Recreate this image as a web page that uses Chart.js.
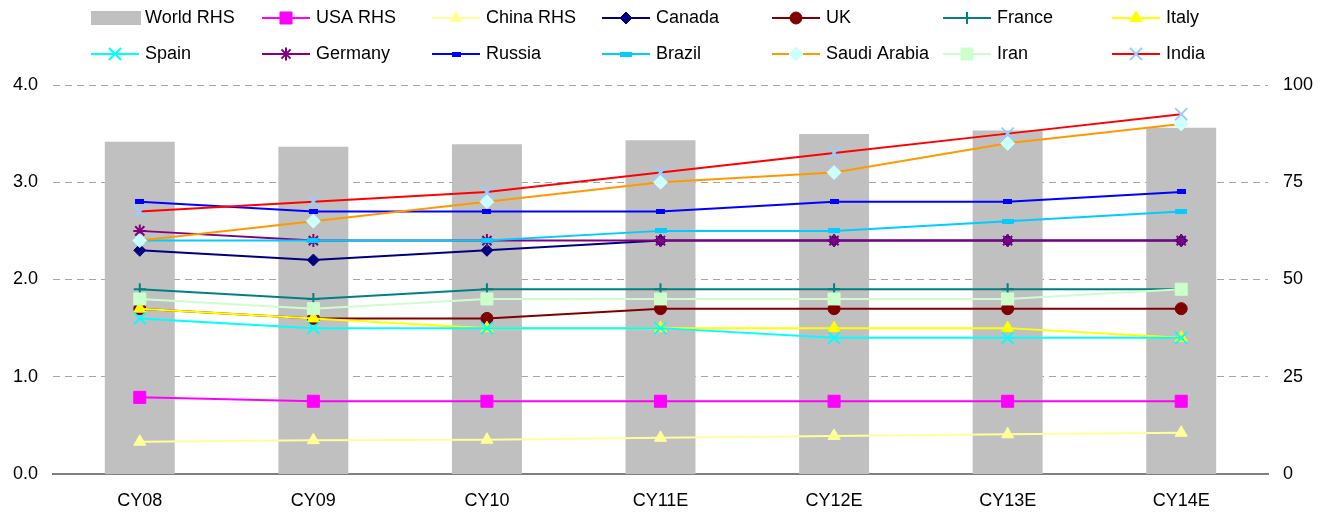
<!DOCTYPE html>
<html>
<head>
<meta charset="utf-8">
<script src="https://cdn.jsdelivr.net/npm/chart.js@4.4.1/dist/chart.umd.min.js"></script>
<style>
  html, body { margin: 0; padding: 0; background: #fff; }
  canvas { display: block; }
</style>
</head>
<body>
<canvas id="chart" width="1327" height="515"></canvas>
<script>
// values
const categories = ['CY08', 'CY09', 'CY10', 'CY11E', 'CY12E', 'CY13E', 'CY14E'];
const leftTicks = [0, 1, 2, 3, 4];
const rightTicks = [0, 25, 50, 75, 100];

const worldRhs = [85.4, 84.1, 84.8, 85.8, 87.4, 88.3, 89.0];
const usaRhs = [19.7, 18.7, 18.7, 18.7, 18.7, 18.7, 18.7];
const chinaRhs = [8.3, 8.7, 8.8, 9.3, 9.8, 10.2, 10.6];
const canada = [2.3, 2.2, 2.3, 2.4, 2.4, 2.4, 2.4];
const uk = [1.7, 1.6, 1.6, 1.7, 1.7, 1.7, 1.7];
const france = [1.9, 1.8, 1.9, 1.9, 1.9, 1.9, 1.9];
const italy = [1.7, 1.6, 1.5, 1.5, 1.5, 1.5, 1.4];
const spain = [1.6, 1.5, 1.5, 1.5, 1.4, 1.4, 1.4];
const germany = [2.5, 2.4, 2.4, 2.4, 2.4, 2.4, 2.4];
const russia = [2.8, 2.7, 2.7, 2.7, 2.8, 2.8, 2.9];
const brazil = [2.4, 2.4, 2.4, 2.5, 2.5, 2.6, 2.7];
const saudiArabia = [2.4, 2.6, 2.8, 3.0, 3.1, 3.4, 3.6];
const iran = [1.8, 1.7, 1.8, 1.8, 1.8, 1.8, 1.9];
const india = [2.7, 2.8, 2.9, 3.1, 3.3, 3.5, 3.7];

const FONT = '"Liberation Sans", Arial, sans-serif';

// small flat bar markers (Russia / Brazil)
function flatMarker(w, h, color) {
  const c = document.createElement('canvas');
  c.width = w;
  c.height = h;
  const g = c.getContext('2d');
  g.fillStyle = color;
  g.fillRect(0, 0, w, h);
  return c;
}

const lines = [
  { label: 'USA RHS', data: usaRhs, axis: 'y1', line: '#FF00FF', marker: '#FF00FF', style: 'rect', r: 8.5 },
  { label: 'China RHS', data: chinaRhs, axis: 'y1', line: '#FFFF99', marker: '#FFFF99', style: 'triangle', r: 7 },
  { label: 'Canada', data: canada, axis: 'y', line: '#000080', marker: '#000080', style: 'rectRot', r: 6 },
  { label: 'UK', data: uk, axis: 'y', line: '#800000', marker: '#800000', style: 'circle', r: 6 },
  { label: 'France', data: france, axis: 'y', line: '#008080', marker: '#008080', style: 'cross', r: 6, stroke: 2 },
  { label: 'Italy', data: italy, axis: 'y', line: '#FFFF00', marker: '#FFFF00', style: 'triangle', r: 7 },
  { label: 'Spain', data: spain, axis: 'y', line: '#00FFFF', marker: '#00FFFF', style: 'crossRot', r: 8.5, stroke: 2 },
  { label: 'Germany', data: germany, axis: 'y', line: '#800080', marker: '#800080', style: 'star', r: 6.5, stroke: 2 },
  { label: 'Russia', data: russia, axis: 'y', line: '#0000FF', marker: '#0000FF', style: flatMarker(9, 5, '#0000FF'), r: 5 },
  { label: 'Brazil', data: brazil, axis: 'y', line: '#00CCFF', marker: '#00CCFF', style: flatMarker(12, 5, '#00CCFF'), r: 6 },
  { label: 'Saudi Arabia', data: saudiArabia, axis: 'y', line: '#FF9900', marker: '#CCFFFF', style: 'rectRot', r: 7 },
  { label: 'Iran', data: iran, axis: 'y', line: '#CCFFCC', marker: '#CCFFCC', style: 'rect', r: 8.5 },
  { label: 'India', data: india, axis: 'y', line: '#FF0000', marker: '#99CCFF', style: 'crossRot', r: 8.5, stroke: 2 }
];

const datasets = [{
  type: 'bar',
  label: 'World RHS',
  data: worldRhs,
  yAxisID: 'y1',
  backgroundColor: '#C0C0C0',
  borderWidth: 0,
  categoryPercentage: 1,
  barPercentage: 0.403,
  order: 100
}];

lines.forEach((s, i) => {
  datasets.push({
    type: 'line',
    label: s.label,
    data: s.data,
    yAxisID: s.axis,
    borderColor: s.line,
    borderWidth: 2,
    tension: 0,
    fill: false,
    pointStyle: s.style,
    pointRadius: s.r,
    pointHoverRadius: s.r,
    pointBackgroundColor: s.marker,
    pointBorderColor: s.marker,
    pointBorderWidth: s.stroke || 1,
    order: 50 - i
  });
});

// legend laid out as a fixed 7 x 2 grid, like the original
const gridLegend = {
  id: 'gridLegend',
  afterDraw(chart) {
    const ctx = chart.ctx;
    const cols = [91, 262, 432, 602, 772, 943, 1112];
    const rows = [18, 54];
    chart.data.datasets.forEach((ds, i) => {
      const x = cols[i % 7];
      const y = rows[Math.floor(i / 7)];
      ctx.save();
      if (ds.type === 'bar') {
        ctx.fillStyle = ds.backgroundColor;
        ctx.fillRect(x, y - 7, 50, 14);
      } else {
        ctx.strokeStyle = ds.borderColor;
        ctx.lineWidth = ds.borderWidth;
        ctx.beginPath();
        ctx.moveTo(x, y);
        ctx.lineTo(x + 48, y);
        ctx.stroke();
        ctx.fillStyle = ds.pointBackgroundColor;
        ctx.strokeStyle = ds.pointBorderColor;
        ctx.lineWidth = ds.pointBorderWidth;
        Chart.helpers.drawPoint(ctx, {
          pointStyle: ds.pointStyle,
          radius: ds.pointRadius,
          rotation: 0,
          borderWidth: ds.pointBorderWidth
        }, x + 24, y);
      }
      ctx.fillStyle = '#000';
      ctx.font = '18px ' + FONT;
      ctx.textBaseline = 'middle';
      ctx.textAlign = 'left';
      ctx.fillText(ds.label, x + 54, y);
      ctx.restore();
    });
  }
};

new Chart(document.getElementById('chart'), {
  type: 'bar',
  data: { labels: categories, datasets: datasets },
  plugins: [gridLegend],
  options: {
    responsive: false,
    animation: false,
    events: [],
    devicePixelRatio: 1,
    layout: { padding: { top: 85, left: 0, right: 0, bottom: 0 } },
    plugins: {
      legend: { display: false },
      tooltip: { enabled: false }
    },
    scales: {
      x: {
        grid: { display: false },
        border: { display: true, color: '#808080', width: 2 },
        ticks: { color: '#000', font: { family: FONT, size: 18 }, padding: 8 },
        afterFit: (scale) => { scale.height = 41; }
      },
      y: {
        position: 'left',
        min: 0,
        max: 4,
        afterBuildTicks: (scale) => { scale.ticks = leftTicks.map(v => ({ value: v })); },
        ticks: {
          color: '#000',
          font: { family: FONT, size: 18 },
          padding: 15,
          callback: (v) => Number(v).toFixed(1)
        },
        grid: {
          drawTicks: false,
          lineWidth: 1,
          color: (c) => (c.tick && c.tick.value === 0 ? 'rgba(0,0,0,0)' : '#A6A6A6')
        },
        border: { display: false, dash: [7, 5] },
        afterFit: (scale) => { scale.width = 53; }
      },
      y1: {
        position: 'right',
        min: 0,
        max: 100,
        afterBuildTicks: (scale) => { scale.ticks = rightTicks.map(v => ({ value: v })); },
        ticks: { color: '#000', font: { family: FONT, size: 18 }, padding: 15 },
        grid: { display: false, drawTicks: false },
        border: { display: false },
        afterFit: (scale) => { scale.width = 59; }
      }
    }
  }
});
</script>
</body>
</html>
